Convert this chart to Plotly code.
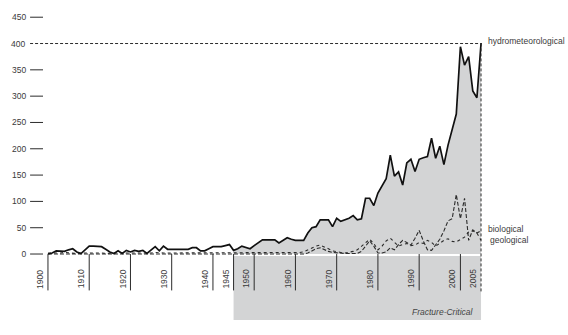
import plotly.graph_objects as go

# Annual counts of reported disasters by type, 1900-2005
years = list(range(1900, 2006))

hydrometeorological = [
    0, 2, 6, 6, 5, 8, 10, 4, 1, 8,            # 1900-1909
    15, 15, 15, 14, 9, 4, 1, 6, 1, 7,         # 1910-1919
    4, 7, 5, 7, 1, 8, 14, 6, 15, 9,           # 1920-1929
    9, 9, 9, 9, 9, 12, 12, 6, 6, 10,          # 1930-1939
    14, 14, 14, 16, 18, 7, 10, 15, 12, 10,    # 1940-1949
    16, 21, 27, 27, 27, 27, 21, 26, 31, 28,   # 1950-1959
    26, 26, 26, 40, 50, 52, 65, 65, 65, 52,   # 1960-1969
    68, 62, 65, 68, 73, 65, 67, 106, 106, 92, # 1970-1979
    116, 130, 143, 188, 148, 156, 131, 173, 180, 157,  # 1980-1989
    180, 183, 185, 220, 182, 205, 170, 207, 235, 266,  # 1990-1999
    394, 359, 375, 310, 297, 400,             # 2000-2005
]

biological = [0] * 63 + [
    2, 6, 10, 12, 8, 5, 3,                    # 1963-1969
    2, 1, 1, 1, 1, 1, 5, 14, 25, 15,          # 1970-1979
    2, 2, 4, 12, 8, 18, 26, 22, 17, 30,       # 1980-1989
    45, 25, 8, 7, 18, 28, 44, 63, 67, 113,    # 1990-1999
    67, 106, 26, 46, 40, 44,                  # 2000-2005
]

geological = [
    2, 2, 1, 2, 3, 2, 2, 1, 2, 2,
    2, 3, 2, 2, 1, 2, 2, 2, 3, 2,
    2, 2, 2, 1, 2, 2, 3, 2, 2, 2,
    2, 2, 3, 2, 2, 2, 2, 2, 3, 2,
    2, 2, 2, 3, 2, 3, 3, 3, 3, 3,
    3, 3, 3, 3, 3, 3, 3, 3, 3, 3,
    3, 3, 4, 8, 12, 15, 17, 14, 10, 6,
    4, 3, 2, 3, 5, 8, 15, 22, 28, 20,
    8, 15, 25, 30, 22, 15, 18, 20, 16, 17,
    22, 20, 26, 22, 15, 20, 26, 29, 24, 23,
    28, 32, 42, 44, 40, 26,
]

y_ticks = [0, 50, 100, 150, 200, 250, 300, 350, 400, 450]
x_ticks = [1900, 1910, 1920, 1930, 1940, 1945, 1950, 1960, 1970, 1980, 1990, 2000, 2005]
period_start, period_end = 1945, 2005
ceiling = 400

# Page geometry
W, H = 568, 335
L, R, T, B = 40, 84, 12, 79
PW, PH = W - L - R, H - T - B
X_RANGE = [1899.6, 2005.72]
Y_RANGE = [-3.74, 452.3]

INK = "#2b2b2b"
LABEL = "#3a3a3a"
SHADE = "#d3d4d5"
FONT = "Liberation Sans, Arial, sans-serif"


def py_to_paper(px):
    """Vertical pixel position (from page top) to paper fraction."""
    return (H - B - px) / PH


def px_to_paper(px):
    """Horizontal pixel position (from page left) to paper fraction."""
    return (px - L) / PW


def y_to_paper(v):
    return (v - Y_RANGE[0]) / (Y_RANGE[1] - Y_RANGE[0])


fig = go.Figure()

# shaded area under the hydrometeorological curve for the highlighted period
idx = [i for i, yr in enumerate(years) if period_start <= yr <= period_end]
fig.add_trace(go.Scatter(
    x=[years[i] for i in idx], y=[hydrometeorological[i] for i in idx],
    mode="lines", fill="tozeroy", fillcolor=SHADE,
    line=dict(width=0, color=SHADE), hoverinfo="skip", showlegend=False,
))

fig.add_trace(go.Scatter(
    x=years, y=geological, mode="lines", name="geological",
    line=dict(color=INK, width=1.1, dash="dot"), showlegend=False,
))
fig.add_trace(go.Scatter(
    x=years, y=biological, mode="lines", name="biological",
    line=dict(color=INK, width=1.1, dash="4px,2px"), showlegend=False,
))
fig.add_trace(go.Scatter(
    x=years, y=hydrometeorological, mode="lines", name="hydrometeorological",
    line=dict(color="#111111", width=1.7), showlegend=False,
))

shapes = []
# shaded band below the axis for the highlighted period
shapes.append(dict(
    type="rect", xref="x", yref="paper",
    x0=period_start, x1=period_end, y0=py_to_paper(321), y1=0,
    fillcolor=SHADE, line=dict(width=0), layer="below",
))
# short horizontal y tick marks
for v in y_ticks:
    if v == ceiling:
        continue
    shapes.append(dict(
        type="line", xref="paper", yref="y",
        x0=px_to_paper(27), x1=0, y0=v, y1=v,
        line=dict(color=INK, width=1),
    ))
# dashed reference line at the ceiling value
shapes.append(dict(
    type="line", xref="paper", yref="y",
    x0=px_to_paper(27), x1=px_to_paper(482), y0=ceiling, y1=ceiling,
    line=dict(color=INK, width=1, dash="3px,2px"),
))
# dashed vertical at the end of the period
shapes.append(dict(
    type="line", xref="x", yref="paper",
    x0=period_end, x1=period_end, y0=py_to_paper(292), y1=y_to_paper(ceiling),
    line=dict(color=INK, width=1, dash="3px,2px"),
))
# vertical x tick marks below the baseline
for yr in x_ticks:
    if yr == period_end:
        continue
    shapes.append(dict(
        type="line", xref="x", yref="paper",
        x0=yr, x1=yr, y0=py_to_paper(291), y1=py_to_paper(254),
        line=dict(color=INK, width=1),
    ))

annotations = []
# rotated year labels beside each tick
for yr in x_ticks:
    annotations.append(dict(
        x=yr, xref="x", y=py_to_paper(291), yref="paper",
        text=str(yr), textangle=-90, showarrow=False,
        xanchor="right", yanchor="bottom", xshift=-1,
        font=dict(family=FONT, size=8.5, color=LABEL),
    ))
# y label for the ceiling value (its tick is replaced by the dashed line)
annotations.append(dict(
    x=px_to_paper(24), xref="paper", y=ceiling, yref="y",
    text=str(ceiling), showarrow=False, xanchor="right", yanchor="middle",
    font=dict(family=FONT, size=8.5, color=LABEL),
))
# series labels at the right
series_labels = [("hydrometeorological", 37, 486), ("biological", 229, 486), ("geological", 240, 488)]
for text, py, pxx in series_labels:
    annotations.append(dict(
        x=px_to_paper(pxx), xref="paper", y=py_to_paper(py), yref="paper",
        text=text, showarrow=False, xanchor="left", yanchor="middle",
        font=dict(family=FONT, size=8.5, color=LABEL),
    ))
annotations.append(dict(
    x=px_to_paper(476), xref="paper", y=py_to_paper(313), yref="paper",
    text="<i>Fracture-Critical</i>", showarrow=False,
    xanchor="right", yanchor="middle",
    font=dict(family=FONT, size=8.5, color="#444444"),
))

fig.update_layout(
    width=W, height=H,
    margin=dict(l=L, r=R, t=T, b=B, pad=0),
    paper_bgcolor="white", plot_bgcolor="white",
    shapes=shapes, annotations=annotations,
    xaxis=dict(
        domain=[px_to_paper(43.34), 1], range=X_RANGE,
        showgrid=False, zeroline=False, showline=False,
        showticklabels=False, ticks="",
    ),
    yaxis=dict(
        anchor="free", position=0, range=Y_RANGE,
        tickvals=[v for v in y_ticks if v != ceiling],
        ticks="outside", ticklen=13, tickcolor="rgba(0,0,0,0)",
        ticklabelstandoff=2,
        showgrid=False, zeroline=False, showline=False,
        tickfont=dict(family=FONT, size=8.5, color=LABEL),
    ),
)

fig.write_html("out.html")
